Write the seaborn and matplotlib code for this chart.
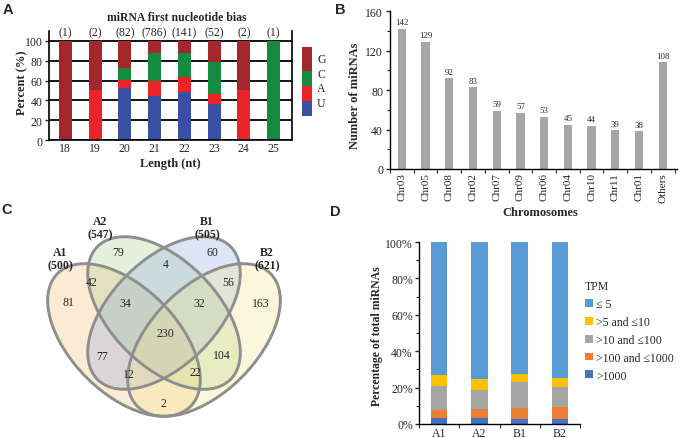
import numpy as np
import pandas as pd
import matplotlib
matplotlib.use("Agg")
import matplotlib.pyplot as plt
import matplotlib.patches as mpatches
import seaborn as sns

# ---------------- data ----------------
lengths = ["18", "19", "20", "21", "22", "23", "24", "25"]
length_counts = [1, 2, 82, 786, 141, 52, 2, 1]
pct_U = [0, 0, 52, 44, 48, 36, 0, 0]
pct_A = [0, 50, 9, 16, 16, 10, 50, 0]
pct_C = [0, 0, 12, 28, 24, 33, 0, 100]
pct_G = [100, 50, 27, 12, 12, 21, 50, 0]
nucleotides = ["G", "C", "A", "U"]

chromosomes = ["Chr03", "Chr05", "Chr08", "Chr02", "Chr07", "Chr09", "Chr06",
               "Chr04", "Chr10", "Chr11", "Chr01", "Others"]
mirna_counts = [142, 129, 92, 83, 59, 57, 53, 45, 44, 39, 38, 108]

venn_sets = ["A1", "A2", "B1", "B2"]
venn_totals = [500, 547, 505, 621]
venn_region_counts = [81, 79, 60, 163, 42, 4, 56, 34, 32, 230, 77, 104, 12, 22, 2]

samples = ["A1", "A2", "B1", "B2"]
tpm_classes = ["\u2264 5", ">5 and \u226410", ">10 and \u2264100", ">100 and \u22641000", ">1000"]
tpm_gt1000 = [3.1, 3.5, 2.6, 2.6]
tpm_100_1000 = [4.8, 4.9, 6.2, 6.9]
tpm_10_100 = [13.1, 10.4, 14.2, 10.8]
tpm_5_10 = [6.1, 6.1, 4.6, 5.1]
tpm_le5 = [72.9, 75.1, 72.4, 74.6]

# ---------------- style ----------------
sns.set_style("white")
SERIF = ["Liberation Serif", "DejaVu Serif"]
SANS = ["Liberation Sans", "DejaVu Sans"]
plt.rcParams["font.family"] = SERIF
plt.rcParams["axes.edgecolor"] = "black"
plt.rcParams["axes.linewidth"] = 1.0

W, H = 679, 439
fig = plt.figure(figsize=(W / 100, H / 100), dpi=100)


def add_ax(x0, y0, x1, y1):
    return fig.add_axes([x0 / W, 1 - y1 / H, (x1 - x0) / W, (y1 - y0) / H])


def ftext(x, y, s, **kw):
    return fig.text(x / W, 1 - y / H, s, **kw)


# ---------------- Panel A ----------------
axA = add_ax(49, 32, 292, 141)
colA = {"G": "#a3282b", "C": "#168a3e", "A": "#ec2327", "U": "#3a51a3"}
U = np.array(pct_U, float)
Aa = np.array(pct_A, float)
Cc = np.array(pct_C, float)
Gg = np.array(pct_G, float)
layers = [("G", U + Aa + Cc + Gg), ("C", U + Aa + Cc), ("A", U + Aa), ("U", U)]
for name, vals in layers:
    sns.barplot(x=lengths, y=vals, order=lengths, color=colA[name], width=0.44,
                saturation=1, errorbar=None, linewidth=0, ax=axA)
axA.set_ylim(0, 110)
axA.set_xlim(-0.55, 7.62)
axA.set_yticks([0, 20, 40, 60, 80, 100])
axA.set_axisbelow(True)
axA.yaxis.grid(True, color="black", lw=1.3)
axA.xaxis.grid(False)
axA.spines["top"].set_visible(False)
for s in ["left", "right", "bottom"]:
    axA.spines[s].set_visible(True)
    axA.spines[s].set_linewidth(1.2)
axA.tick_params(axis="y", left=True, length=3, width=1, pad=1.5, labelsize=8.5)
axA.tick_params(axis="x", bottom=False, length=0, pad=1.5, labelsize=8.5)
axA.set_xlabel("")
axA.set_ylabel("")
for i, c in enumerate(length_counts):
    axA.text(i, 103.0, f"({c})", ha="center", va="bottom", fontsize=8.5, clip_on=False)
ftext(177, 18, "miRNA first nucleotide bias", ha="center", va="center",
      fontweight="bold", fontsize=8.5)
ftext(22, 83, "Percent (%)", ha="center", va="center", rotation=90,
      fontweight="bold", fontsize=9)
ftext(170, 164, "Length (nt)", ha="center", va="center", fontweight="bold", fontsize=9)
# legend of panel A
leg_spans = {"G": (48, 72), "C": (72, 87), "A": (87, 102), "U": (102, 117)}
for name in nucleotides:
    y0, y1 = leg_spans[name]
    fig.add_artist(mpatches.Rectangle((302 / W, 1 - y1 / H), 10 / W, (y1 - y0) / H,
                                      transform=fig.transFigure, color=colA[name], lw=0))
for name, yy in zip(nucleotides, [60, 75, 89, 104]):
    ftext(317, yy, name, ha="left", va="center", fontsize=8.5)

# ---------------- Panel B ----------------
axB = add_ax(390, 12, 677, 170)
sns.barplot(x=chromosomes, y=mirna_counts, order=chromosomes, color="#a6a6a6",
            width=0.35, saturation=1, errorbar=None, linewidth=0, ax=axB)
axB.set_ylim(0, 160)
axB.set_xlim(-0.5, 11.6)
axB.set_yticks([0, 40, 80, 120, 160])
axB.set_yticks(np.arange(0, 161, 20), minor=True)
axB.set_xticks(np.arange(-0.5, 12, 1), minor=True)
sns.despine(ax=axB)
axB.tick_params(axis="y", which="major", left=True, length=3, width=1, pad=2, labelsize=8.5)
axB.tick_params(axis="y", which="minor", left=True, length=2, width=0.8)
axB.tick_params(axis="x", which="major", bottom=False, length=0, pad=2, labelsize=8,
                rotation=90)
axB.tick_params(axis="x", which="minor", bottom=True, length=3, width=0.8)
axB.set_xlabel("")
axB.set_ylabel("")
for i, v in enumerate(mirna_counts):
    axB.text(i, v + 2.5, str(v), ha="center", va="bottom", fontsize=6.4)
ftext(540, 213, "Chromosomes", ha="center", va="center", fontweight="bold", fontsize=9)
ftext(355, 96, "Number of miRNAs", ha="center", va="center", rotation=90,
      fontweight="bold", fontsize=9)

# ---------------- Panel C (Venn) ----------------
axV = fig.add_axes([0, 0, 340 / W, 239 / H])
axV.set_xlim(0, 340)
axV.set_ylim(439, 200)
axV.axis("off")
centers = [(124, 341), (164, 314), (164, 314), (204, 341)]
angles = [45, 45, -45, -45]
fills = [("#f8c88a", 0.36), ("#a8d08d", 0.30), ("#8fa8e0", 0.30), ("#f0e68c", 0.30)]
EW, EH = 188, 106
for (cx, cy), ang, (fc, al) in zip(centers, angles, fills):
    axV.add_patch(mpatches.Ellipse((cx, cy), EW, EH, angle=ang,
                                   facecolor=fc, alpha=al, lw=0))
for (cx, cy), ang in zip(centers, angles):
    axV.add_patch(mpatches.Ellipse((cx, cy), EW, EH, angle=ang,
                                   facecolor="none", edgecolor="#8e8e8e", lw=2.1))
region_pos = [(68, 303), (118, 253), (212, 253), (261, 304), (92, 283), (166, 265),
              (228, 283), (125, 304), (199, 304), (165, 334), (102, 357), (222, 356),
              (129, 375), (195, 373), (163, 404)]
for n, (px, py) in zip(venn_region_counts, region_pos):
    axV.text(px, py, str(n), ha="center", va="center", fontsize=8.5)
label_pos = [(60, 253), (100, 222), (207, 222), (267, 253)]
for name, tot, (px, py) in zip(venn_sets, venn_totals, label_pos):
    axV.text(px, py, name, ha="center", va="center", fontsize=8.5, fontweight="bold")
    axV.text(px, py + 13, f"({tot})", ha="center", va="center", fontsize=8.5,
             fontweight="bold")

# ---------------- Panel D ----------------
axD = add_ax(419, 243, 580, 425)
colD = ["#5b9bd5", "#ffc000", "#a5a5a5", "#ed7d31", "#4472c4"]
segs = [tpm_le5, tpm_5_10, tpm_10_100, tpm_100_1000, tpm_gt1000]
arr = np.array(segs[::-1], float)  # bottom -> top
cum = np.cumsum(arr, axis=0)       # cumulative from bottom
for k in range(len(segs) - 1, -1, -1):
    sns.barplot(x=samples, y=cum[k], order=samples, color=colD[::-1][k], width=0.41,
                saturation=1, errorbar=None, linewidth=0, ax=axD)
axD.set_ylim(0, 100)
axD.set_xlim(-0.5, 3.47)
axD.set_yticks([0, 20, 40, 60, 80, 100])
axD.set_yticklabels([f"{v}%" for v in [0, 20, 40, 60, 80, 100]])
axD.set_yticks(np.arange(0, 101, 10), minor=True)
axD.set_xticks(np.arange(-0.5, 4, 1), minor=True)
sns.despine(ax=axD)
axD.tick_params(axis="y", which="major", left=True, length=3, width=1, pad=1.5, labelsize=8.5)
axD.tick_params(axis="y", which="minor", left=True, length=2, width=0.8)
axD.tick_params(axis="x", which="major", bottom=False, length=0, pad=2, labelsize=8.5)
axD.tick_params(axis="x", which="minor", bottom=True, length=3, width=0.8)
axD.set_xlabel("")
axD.set_ylabel("")
ftext(377, 336, "Percentage of total miRNAs", ha="center", va="center", rotation=90,
      fontweight="bold", fontsize=8.5)
handles = [mpatches.Patch(color=c, lw=0) for c in colD]
leg = axD.legend(handles, tpm_classes, title="TPM", loc="upper left",
                 bbox_to_anchor=(585 / W, 1 - 281 / H), bbox_transform=fig.transFigure,
                 frameon=False, fontsize=8.5, title_fontsize=8.5, handlelength=0.65,
                 handleheight=0.65, handletextpad=0.3, labelspacing=0.5,
                 borderpad=0, borderaxespad=0, alignment="left")

# ---------------- panel letters ----------------
for lab, (px, py) in zip(["A", "B", "C", "D"], [(3, 3), (335, 3), (1, 203), (330, 205)]):
    ftext(px, py, lab, ha="left", va="top", fontsize=10.5, fontweight="bold", family=SANS)

fig.savefig("out.png", dpi=100)
